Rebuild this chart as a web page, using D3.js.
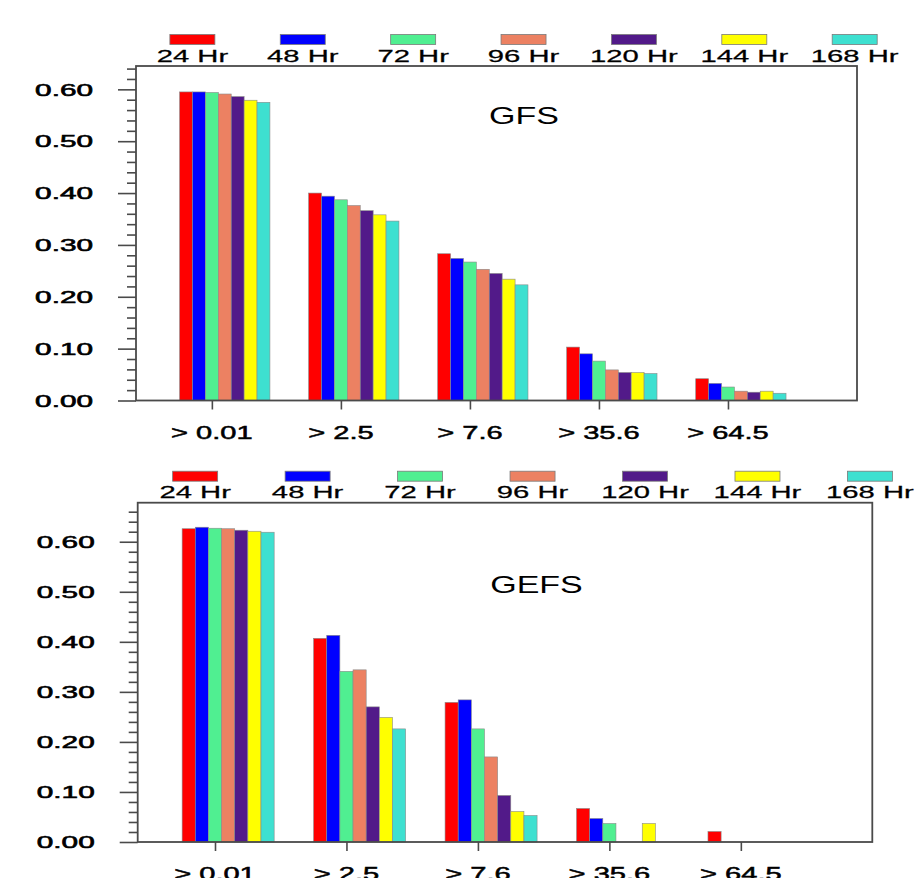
<!DOCTYPE html>
<html><head><meta charset="utf-8">
<script src="https://cdn.jsdelivr.net/npm/d3@7"></script>
<style>body{margin:0;background:#fff}svg{display:block}text{font-family:"Liberation Sans",Arial,Helvetica,sans-serif;fill:#000}</style>
</head><body><svg id="c" width="922" height="878"></svg>
<script>
// ---------- data ----------
const categories = ["> 0.01", "> 2.5", "> 7.6", "> 35.6", "> 64.5"];
const leadTimes = ["24 Hr", "48 Hr", "72 Hr", "96 Hr", "120 Hr", "144 Hr", "168 Hr"];
const leadColors = ["#ff0000", "#0000ff", "#50ef91", "#ec8162", "#521a89", "#ffff00", "#3ee0d0"];
const yTickValues = [0, 0.1, 0.2, 0.3, 0.4, 0.5, 0.6];
const yTickLabels = ["0.00", "0.10", "0.20", "0.30", "0.40", "0.50", "0.60"];

const gfs24  = [0.595, 0.400, 0.283, 0.103, 0.042];
const gfs48  = [0.595, 0.394, 0.274, 0.090, 0.033];
const gfs72  = [0.594, 0.387, 0.267, 0.076, 0.026];
const gfs96  = [0.591, 0.376, 0.253, 0.059, 0.018];
const gfs120 = [0.586, 0.366, 0.245, 0.054, 0.016];
const gfs144 = [0.579, 0.358, 0.234, 0.054, 0.018];
const gfs168 = [0.575, 0.346, 0.223, 0.052, 0.014];

const gefs24  = [0.626, 0.407, 0.279, 0.067, 0.021];
const gefs48  = [0.629, 0.413, 0.284, 0.047, 0];
const gefs72  = [0.627, 0.341, 0.226, 0.037, 0];
const gefs96  = [0.626, 0.344, 0.170, 0, 0];
const gefs120 = [0.623, 0.270, 0.093, 0, 0];
const gefs144 = [0.621, 0.249, 0.061, 0.037, 0];
const gefs168 = [0.619, 0.226, 0.053, 0, 0];

const gfsSeries  = [gfs24, gfs48, gfs72, gfs96, gfs120, gfs144, gfs168];
const gefsSeries = [gefs24, gefs48, gefs72, gefs96, gefs120, gefs144, gefs168];

// ---------- layout ----------
const panels = [
  {title: "GFS",  series: gfsSeries,  box: {l: 136,   r: 857,   t: 66,    b: 400.5}, yMax: 0.645, minorTop: [0.62, 0.64],       titleX: 524,   titleY: 124},
  {title: "GEFS", series: gefsSeries, box: {l: 137.7, r: 872.3, t: 502.7, b: 842},   yMax: 0.678, minorTop: [0.62, 0.64, 0.66], titleX: 536.5, titleY: 593}
];
const barW = 0.1; // in category units

const svg = d3.select("#c");

function stext(g, x, y, str, size, sx, anchor, sw) {
  return g.append("text")
    .attr("transform", `translate(${x},${y}) scale(${sx},1)`)
    .attr("text-anchor", anchor)
    .attr("stroke", sw ? "#000" : "none")
    .attr("stroke-width", sw || 0)
    .style("font-size", size + "px")
    .text(str);
}

panels.forEach(p => {
  const B = p.box;
  const g = svg.append("g");
  const x = d3.scaleLinear().domain([-0.588, 5.0]).range([B.l, B.r]);
  const y = d3.scaleLinear().domain([0, p.yMax]).range([B.b, B.t]);

  // bars
  p.series.forEach((vals, j) => {
    g.append("g").selectAll("rect")
      .data(vals.map((v, i) => ({v, i})).filter(d => d.v > 0))
      .join("rect")
      .attr("x", d => x(d.i + (j - 2.5) * barW))
      .attr("width", d => x(d.i + (j - 1.5) * barW) - x(d.i + (j - 2.5) * barW))
      .attr("y", d => y(d.v))
      .attr("height", d => y(0) - y(d.v))
      .attr("fill", leadColors[j])
      .attr("stroke", "#8a8a8a")
      .attr("stroke-width", 0.6);
  });

  // axes ticks
  const minorVals = d3.range(0, 0.6001, 0.02).filter(v => Math.abs(v * 10 - Math.round(v * 10)) > 1e-6).concat(p.minorTop);
  const yMajor = g.append("g").attr("transform", `translate(${B.l},0)`)
    .call(d3.axisLeft(y).tickValues(yTickValues).tickSize(18).tickSizeOuter(0).tickFormat(""));
  const yMinor = g.append("g").attr("transform", `translate(${B.l},0)`)
    .call(d3.axisLeft(y).tickValues(minorVals).tickSize(9).tickSizeOuter(0).tickFormat(""));
  const xAx = g.append("g").attr("transform", `translate(0,${B.b})`)
    .call(d3.axisBottom(x).tickValues(d3.range(categories.length)).tickSize(9).tickSizeOuter(0).tickFormat(""));
  [yMajor, yMinor, xAx].forEach(a => {
    a.select(".domain").remove();
    a.selectAll("line").attr("stroke", "#4a4a4a").attr("stroke-width", 1.6);
  });

  // frame
  g.append("rect").attr("x", B.l).attr("y", B.t).attr("width", B.r - B.l).attr("height", B.b - B.t)
    .attr("fill", "none").attr("stroke", "#4a4a4a").attr("stroke-width", 1.8);

  // y labels
  yTickValues.forEach((v, k) => stext(g, B.l - 43, y(v) + 6.2, yTickLabels[k], 17, 1.75, "end", 0.6));
  // x labels
  categories.forEach((c, i) => stext(g, x(i), B.b + 38, c, 18.5, 1.57, "middle", 0.5));

  // legend
  const W = B.r - B.l;
  leadTimes.forEach((lt, k) => {
    const cx = B.l + W * (0.0782 + 0.1531 * k);
    g.append("rect").attr("x", cx - 22.5).attr("y", B.t - 31.5).attr("width", 45).attr("height", 10)
      .attr("fill", leadColors[k]).attr("stroke", "#7a7a7a").attr("stroke-width", 0.8);
    stext(g, cx, B.t - 4.5, lt, 17, 1.72, "middle", 0.25);
  });

  // title
  stext(g, p.titleX, p.titleY, p.title, 23.3, 1.46, "middle");
});
</script></body></html>
